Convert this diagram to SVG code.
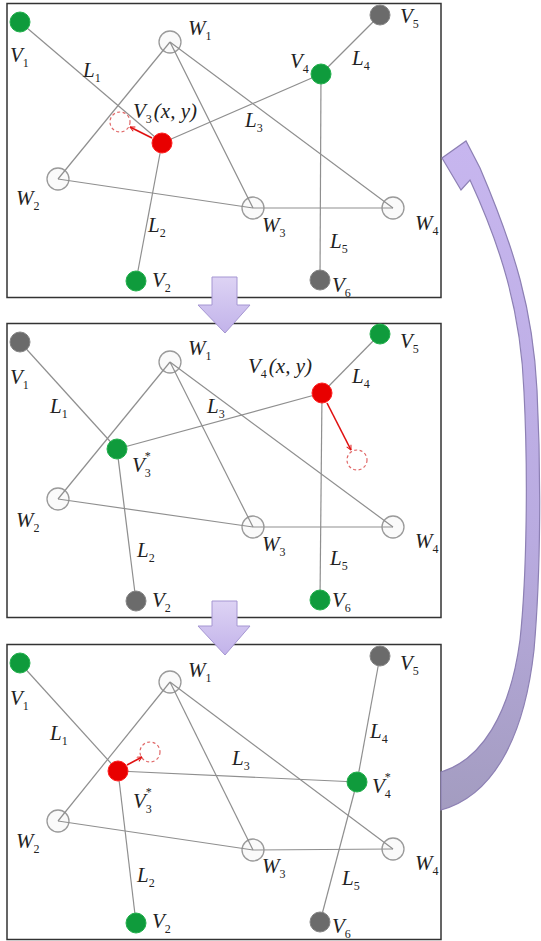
<svg xmlns="http://www.w3.org/2000/svg" width="541" height="941" viewBox="0 0 541 941">
<defs>
<style>
.panel{fill:#fff;stroke:#333;stroke-width:1.5}
.e{stroke:#8f8f8f;stroke-width:1.2;fill:none}
.hw{fill:#f6f6f6;fill-opacity:0.6;stroke:#9a9a9a;stroke-width:1.3}
.g{fill:#0f9b3c;stroke:#22b04c;stroke-width:1}
.k{fill:#6b6b6b;stroke:#858585;stroke-width:1}
.r{fill:#e80000;stroke:#ff2020;stroke-width:1}
.d{fill:none;stroke:#e06666;stroke-width:1.2;stroke-dasharray:3 2.5}
.ra{stroke:#e01010;stroke-width:1.6;fill:none;marker-end:url(#ah)}
text{font-family:"Liberation Serif","Times New Roman",serif;font-size:21px;font-style:italic;fill:#222}
.s{font-size:12px;font-style:normal}
.blk{fill:url(#bg);stroke:#a596d2;stroke-width:1}
</style>
<marker id="ah" viewBox="0 0 10 10" refX="9" refY="5" markerWidth="6" markerHeight="6" orient="auto" markerUnits="userSpaceOnUse">
<path d="M1,1 L9,5 L1,9" fill="none" stroke="#e01010" stroke-width="1.6"/>
</marker>
<linearGradient id="bg" x1="0" y1="0" x2="0" y2="1">
<stop offset="0" stop-color="#ddd3f4"/>
<stop offset="1" stop-color="#c2b3ea"/>
</linearGradient>
<linearGradient id="cg" x1="0" y1="0" x2="0" y2="1">
<stop offset="0" stop-color="#c7b6ef"/>
<stop offset="0.6" stop-color="#b9abe0"/>
<stop offset="1" stop-color="#a39cc0"/>
</linearGradient>
</defs>
<rect width="541" height="941" fill="#fff"/>

<!-- panels -->
<rect class="panel" x="7" y="3.5" width="434" height="294"/>
<rect class="panel" x="7" y="323.5" width="434" height="294"/>
<rect class="panel" x="7" y="644.5" width="434" height="295"/>

<!-- block arrows between panels -->
<g id="down1"><path class="blk" d="M212,277 H237 V305 H250 L225,333 L198,305 H212 Z"/></g>
<g id="down2"><path class="blk" d="M212,601 H237 V626 H250 L225,655 L198,626 H212 Z"/></g>

<!-- curved loop arrow -->
<g id="loop">
<path d="M441,810 C492,796 524,740 534,650 C541,570 541,470 537,390 C533,310 515,250 480,168 L466,141 L442,158 L461,190 L470,180 C500,245 521,310 524,392 C528,470 527,575 520,640 C510,715 481,760 441,772 Z" fill="url(#cg)" stroke="#8d80b4" stroke-width="1.2"/>
</g>

<!-- ===== Panel 1 ===== -->
<g id="p1-W1"><circle class="hw" cx="170" cy="42" r="11"/><text x="188" y="35">W<tspan class="s" dy="5">1</tspan></text></g>
<g id="p1-W2"><circle class="hw" cx="58" cy="179" r="11"/><text x="16" y="205">W<tspan class="s" dy="5">2</tspan></text></g>
<g id="p1-W3"><circle class="hw" cx="253" cy="208" r="11"/><text x="262" y="232">W<tspan class="s" dy="5">3</tspan></text></g>
<g id="p1-W4"><circle class="hw" cx="393" cy="208" r="11"/><text x="415" y="230">W<tspan class="s" dy="5">4</tspan></text></g>

<!-- ===== Panel 2 hollow ===== -->
<g id="p2-W1"><circle class="hw" cx="170" cy="362" r="11"/><text x="188" y="355">W<tspan class="s" dy="5">1</tspan></text></g>
<g id="p2-W2"><circle class="hw" cx="58" cy="499" r="11"/><text x="16" y="527">W<tspan class="s" dy="5">2</tspan></text></g>
<g id="p2-W3"><circle class="hw" cx="253" cy="527" r="11"/><text x="262" y="551">W<tspan class="s" dy="5">3</tspan></text></g>
<g id="p2-W4"><circle class="hw" cx="393" cy="527" r="11"/><text x="415" y="548">W<tspan class="s" dy="5">4</tspan></text></g>

<!-- ===== Panel 3 hollow ===== -->
<g id="p3-W1"><circle class="hw" cx="170" cy="682" r="11"/><text x="188" y="677">W<tspan class="s" dy="5">1</tspan></text></g>
<g id="p3-W2"><circle class="hw" cx="58" cy="821" r="11"/><text x="16" y="848">W<tspan class="s" dy="5">2</tspan></text></g>
<g id="p3-W3"><circle class="hw" cx="253" cy="850" r="11"/><text x="262" y="873">W<tspan class="s" dy="5">3</tspan></text></g>
<g id="p3-W4"><circle class="hw" cx="393" cy="849" r="11"/><text x="415" y="870">W<tspan class="s" dy="5">4</tspan></text></g>

<!-- connectors -->
<g id="connectors">
<!-- panel 1 -->
<line class="e" x1="20" y1="22" x2="162" y2="143"/>
<line class="e" x1="170" y1="42" x2="58" y2="179"/>
<line class="e" x1="170" y1="42" x2="253" y2="208"/>
<line class="e" x1="170" y1="42" x2="393" y2="208"/>
<line class="e" x1="58" y1="179" x2="253" y2="208"/>
<line class="e" x1="253" y1="208" x2="393" y2="208"/>
<line class="e" x1="162" y1="143" x2="321" y2="74"/>
<line class="e" x1="162" y1="143" x2="136" y2="281"/>
<line class="e" x1="321" y1="74" x2="380" y2="15"/>
<line class="e" x1="321" y1="74" x2="320" y2="280"/>
<line class="ra" x1="152" y1="138" x2="130" y2="127"/>
<!-- panel 2 -->
<line class="e" x1="20" y1="342" x2="117" y2="449"/>
<line class="e" x1="170" y1="362" x2="58" y2="499"/>
<line class="e" x1="170" y1="362" x2="253" y2="527"/>
<line class="e" x1="170" y1="362" x2="393" y2="527"/>
<line class="e" x1="58" y1="499" x2="253" y2="527"/>
<line class="e" x1="253" y1="527" x2="393" y2="527"/>
<line class="e" x1="117" y1="449" x2="322" y2="393"/>
<line class="e" x1="117" y1="449" x2="136" y2="601"/>
<line class="e" x1="322" y1="393" x2="380" y2="334"/>
<line class="e" x1="322" y1="393" x2="320" y2="600"/>
<line class="ra" x1="327" y1="403" x2="351" y2="450"/>
<!-- panel 3 -->
<line class="e" x1="20" y1="663" x2="118" y2="771"/>
<line class="e" x1="170" y1="682" x2="58" y2="821"/>
<line class="e" x1="170" y1="682" x2="253" y2="850"/>
<line class="e" x1="170" y1="682" x2="393" y2="849"/>
<line class="e" x1="58" y1="821" x2="253" y2="850"/>
<line class="e" x1="253" y1="850" x2="393" y2="849"/>
<line class="e" x1="118" y1="771" x2="357" y2="782"/>
<line class="e" x1="118" y1="771" x2="136" y2="923"/>
<line class="e" x1="357" y1="782" x2="380" y2="656"/>
<line class="e" x1="357" y1="782" x2="320" y2="922"/>
<line class="ra" x1="127" y1="765" x2="142" y2="757"/>
</g>

<!-- panel 1 labels (edges) -->
<g id="p1-labels">
<text x="83" y="77">L<tspan class="s" dy="5">1</tspan></text>
<text x="245" y="127">L<tspan class="s" dy="5">3</tspan></text>
<text x="352" y="65">L<tspan class="s" dy="5">4</tspan></text>
<text x="148" y="232">L<tspan class="s" dy="5">2</tspan></text>
<text x="330" y="248">L<tspan class="s" dy="5">5</tspan></text>
</g>
<g id="p1-V1"><circle class="g" cx="20" cy="22" r="10"/><text x="10" y="62">V<tspan class="s" dy="5">1</tspan></text></g>
<g id="p1-V2"><circle class="g" cx="136" cy="281" r="10"/><text x="152" y="287">V<tspan class="s" dy="5">2</tspan></text></g>
<g id="p1-V3"><circle class="d" cx="120" cy="122" r="10"/><circle class="r" cx="162" cy="143" r="10"/><text x="133" y="118">V<tspan class="s" dy="5">3</tspan><tspan dx="2" dy="-5" xml:space="preserve">(x, y)</tspan></text></g>
<g id="p1-V4"><circle class="g" cx="321" cy="74" r="10"/><text x="290" y="68">V<tspan class="s" dy="5">4</tspan></text></g>
<g id="p1-V5"><circle class="k" cx="380" cy="15" r="10"/><text x="400" y="23">V<tspan class="s" dy="5">5</tspan></text></g>
<g id="p1-V6"><circle class="k" cx="320" cy="280" r="10"/><text x="332" y="292">V<tspan class="s" dy="5">6</tspan></text></g>

<!-- panel 2 -->
<g id="p2-labels">
<text x="50" y="413">L<tspan class="s" dy="5">1</tspan></text>
<text x="207" y="413">L<tspan class="s" dy="5">3</tspan></text>
<text x="352" y="383">L<tspan class="s" dy="5">4</tspan></text>
<text x="137" y="557">L<tspan class="s" dy="5">2</tspan></text>
<text x="330" y="565">L<tspan class="s" dy="5">5</tspan></text>
</g>
<g id="p2-V1"><circle class="k" cx="20" cy="342" r="10"/><text x="10" y="384">V<tspan class="s" dy="5">1</tspan></text></g>
<g id="p2-V2"><circle class="k" cx="136" cy="601" r="10"/><text x="152" y="607">V<tspan class="s" dy="5">2</tspan></text></g>
<g id="p2-V3"><circle class="g" cx="117" cy="449" r="10"/><text x="132" y="472">V<tspan class="s" dy="5">3</tspan><tspan class="s" dx="-6" dy="-17">*</tspan></text></g>
<g id="p2-V4"><circle class="d" cx="357" cy="460" r="10"/><circle class="r" cx="322" cy="393" r="10"/><text x="248" y="373">V<tspan class="s" dy="5">4</tspan><tspan dx="2" dy="-5" xml:space="preserve">(x, y)</tspan></text></g>
<g id="p2-V5"><circle class="g" cx="380" cy="334" r="10"/><text x="400" y="348">V<tspan class="s" dy="5">5</tspan></text></g>
<g id="p2-V6"><circle class="g" cx="320" cy="600" r="10"/><text x="332" y="607">V<tspan class="s" dy="5">6</tspan></text></g>

<!-- panel 3 -->
<g id="p3-labels">
<text x="50" y="740">L<tspan class="s" dy="5">1</tspan></text>
<text x="232" y="765">L<tspan class="s" dy="5">3</tspan></text>
<text x="370" y="738">L<tspan class="s" dy="5">4</tspan></text>
<text x="137" y="882">L<tspan class="s" dy="5">2</tspan></text>
<text x="342" y="885">L<tspan class="s" dy="5">5</tspan></text>
</g>
<g id="p3-V1"><circle class="g" cx="20" cy="663" r="10"/><text x="10" y="705">V<tspan class="s" dy="5">1</tspan></text></g>
<g id="p3-V2"><circle class="g" cx="136" cy="923" r="10"/><text x="152" y="928">V<tspan class="s" dy="5">2</tspan></text></g>
<g id="p3-V3"><circle class="d" cx="150" cy="752" r="10"/><circle class="r" cx="118" cy="771" r="10"/><text x="133" y="808">V<tspan class="s" dy="5">3</tspan><tspan class="s" dx="-6" dy="-17">*</tspan></text></g>
<g id="p3-V4"><circle class="g" cx="357" cy="782" r="10"/><text x="372" y="793">V<tspan class="s" dy="5">4</tspan><tspan class="s" dx="-6" dy="-17">*</tspan></text></g>
<g id="p3-V5"><circle class="k" cx="380" cy="656" r="10"/><text x="400" y="670">V<tspan class="s" dy="5">5</tspan></text></g>
<g id="p3-V6"><circle class="k" cx="320" cy="922" r="10"/><text x="332" y="933">V<tspan class="s" dy="5">6</tspan></text></g>
</svg>
